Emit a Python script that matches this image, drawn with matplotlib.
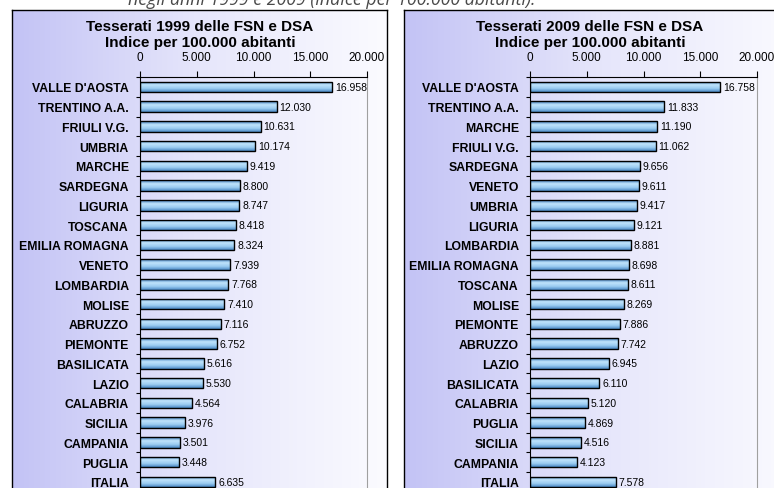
import numpy as np
import matplotlib.pyplot as plt
from matplotlib.colors import LinearSegmentedColormap

# data
regions_1999 = ["VALLE D'AOSTA", "TRENTINO A.A.", "FRIULI V.G.", "UMBRIA", "MARCHE",
                "SARDEGNA", "LIGURIA", "TOSCANA", "EMILIA ROMAGNA", "VENETO",
                "LOMBARDIA", "MOLISE", "ABRUZZO", "PIEMONTE", "BASILICATA",
                "LAZIO", "CALABRIA", "SICILIA", "CAMPANIA", "PUGLIA", "ITALIA"]
values_1999 = [16958, 12030, 10631, 10174, 9419, 8800, 8747, 8418, 8324, 7939,
               7768, 7410, 7116, 6752, 5616, 5530, 4564, 3976, 3501, 3448, 6635]

regions_2009 = ["VALLE D'AOSTA", "TRENTINO A.A.", "MARCHE", "FRIULI V.G.", "SARDEGNA",
                "VENETO", "UMBRIA", "LIGURIA", "LOMBARDIA", "EMILIA ROMAGNA",
                "TOSCANA", "MOLISE", "PIEMONTE", "ABRUZZO", "LAZIO",
                "BASILICATA", "CALABRIA", "PUGLIA", "SICILIA", "CAMPANIA", "ITALIA"]
values_2009 = [16758, 11833, 11190, 11062, 9656, 9611, 9417, 9121, 8881, 8698,
               8611, 8269, 7886, 7742, 6945, 6110, 5120, 4869, 4516, 4123, 7578]

titles = ["Tesserati 1999 delle FSN e DSA\nIndice per 100.000 abitanti",
          "Tesserati 2009 delle FSN e DSA\nIndice per 100.000 abitanti"]
x_ticks = [0, 5000, 10000, 15000, 20000]

plt.rcParams['font.family'] = ['Liberation Sans', 'DejaVu Sans']

W, H = 774, 489
fig = plt.figure(figsize=(W / 100, H / 100), dpi=100)

panel_cmap = LinearSegmentedColormap.from_list('panel', ['#c3c3f5', '#e6e6fb', '#fbfbff'])
bar_cmap = LinearSegmentedColormap.from_list('bar', ['#3f7fbf', '#bfe3fb', '#9ccdf2', '#4a88c4'])


def px(x0, y0, x1, y1):
    # pixel box (top-left origin) -> figure fraction rect
    return [x0 / W, 1 - y1 / H, (x1 - x0) / W, (y1 - y0) / H]


def thousands(v):
    return f'{v:,}'.replace(',', '.')


def draw_panel(panel_box, axes_left, names, vals, title):
    pax = fig.add_axes(px(*panel_box))
    pax.imshow(np.linspace(0, 1, 256)[None, :], cmap=panel_cmap, aspect='auto',
               extent=[0, 1, 0, 1])
    pax.set_xlim(0, 1)
    pax.set_ylim(0, 1)
    pax.set_xticks([])
    pax.set_yticks([])
    for s in pax.spines.values():
        s.set_color('black')
        s.set_linewidth(1.0)

    cx = axes_left + 60
    fig.text(cx / W, 1 - 35 / H, title, ha='center', va='center',
             fontsize=11, fontweight='bold', linespacing=1.15)

    n = len(names)
    band = 19.75
    ax = fig.add_axes(px(axes_left, 78, axes_left + 227, 78 + n * band))
    ax.patch.set_alpha(0)
    pos = np.arange(n)
    bars = ax.barh(pos, vals, height=0.52, color='#9ccdf2', edgecolor='black',
                   linewidth=1.0, zorder=3)
    for b in bars:
        x0, y0 = b.get_x(), b.get_y()
        im = ax.imshow(np.linspace(0, 1, 64)[:, None], cmap=bar_cmap, aspect='auto',
                       extent=[x0, x0 + b.get_width(), y0 + b.get_height(), y0],
                       zorder=2)
        im.set_clip_path(b)
        b.set_facecolor('none')
    for p, v in zip(pos, vals):
        ax.text(v + 250, p, thousands(v), va='center', ha='left',
                fontsize=7.5, zorder=4)

    ax.set_xlim(0, 20000)
    ax.set_ylim(n - 0.5, -0.5)
    ax.xaxis.tick_top()
    ax.set_xticks(x_ticks)
    ax.set_xticklabels([thousands(t) for t in x_ticks], fontsize=8.5)
    ax.tick_params(axis='x', direction='out', length=4, width=0.8, pad=6)
    ax.set_yticks(np.arange(-0.5, n, 1))
    ax.set_yticklabels([])
    ax.tick_params(axis='y', direction='out', length=3, width=0.8)
    ax.set_yticks(pos, minor=True)
    ax.set_yticklabels(names, minor=True, fontsize=8.8, fontweight='bold')
    ax.tick_params(axis='y', which='minor', length=0, pad=8)
    ax.spines['top'].set_color('black')
    ax.spines['left'].set_color('black')
    ax.spines['right'].set_color('#a0a0a0')
    ax.spines['bottom'].set_visible(False)


draw_panel((12, 11, 387, 520), 140, regions_1999, values_1999, titles[0])
draw_panel((404, 11, 800, 520), 530, regions_2009, values_2009, titles[1])

# caption belongs to a paragraph above the crop; only its lower part shows
fig.text(332 / W, 1 - 5 / H, 'negli anni 1999 e 2009 (indice per 100.000 abitanti).',
         ha='center', va='baseline', fontsize=12.8, style='italic', color='#4a4a4a',
         family=['Open Sans', 'DejaVu Sans'])

fig.savefig('out.png', dpi=100)
